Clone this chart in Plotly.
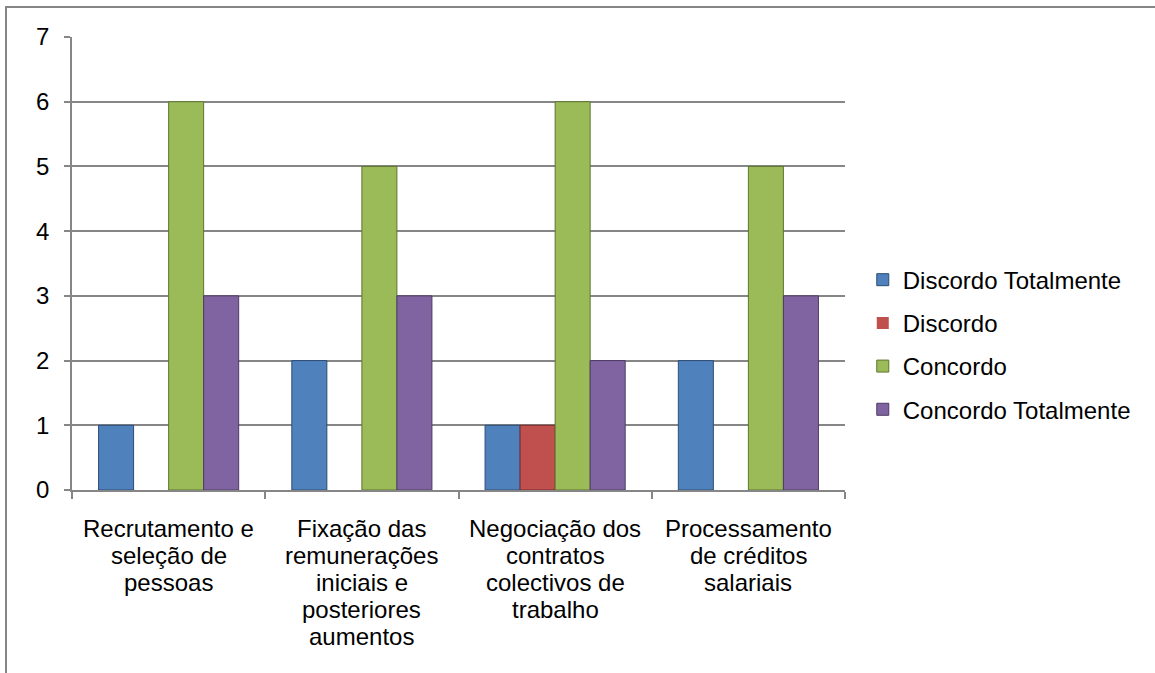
import plotly.graph_objects as go

categories = [
    "Recrutamento e<br>seleção de<br>pessoas",
    "Fixação das<br>remunerações<br>iniciais e<br>posteriores<br>aumentos",
    "Negociação dos<br>contratos<br>colectivos de<br>trabalho",
    "Processamento<br>de créditos<br>salariais",
]
series_names = ["Discordo Totalmente", "Discordo", "Concordo", "Concordo Totalmente"]
discordo_totalmente = [1, 2, 1, 2]
discordo = [0, 0, 1, 0]
concordo = [6, 5, 6, 5]
concordo_totalmente = [3, 3, 2, 3]
y_ticks = [0, 1, 2, 3, 4, 5, 6, 7]

values = [discordo_totalmente, discordo, concordo, concordo_totalmente]
colors = ["#4F81BD", "#C0504D", "#9BBB59", "#8064A2"]
edges = ["#2C4D75", "#772C2A", "#5F7530", "#4D3B62"]

fig = go.Figure()
for name, vals, c, e in zip(series_names, values, colors, edges):
    fig.add_trace(go.Bar(
        x=categories, y=vals, name=name, legendgroup=name,
        marker=dict(color=c, line=dict(color=e, width=[1 if v else 0 for v in vals])),
    ))

font = dict(family="Liberation Sans, Arial, sans-serif", size=24, color="#000000")

# category labels drawn line by line (tighter line spacing than plotly default)
annotations = []
for cat in categories:
    for i, line in enumerate(cat.split("<br>")):
        annotations.append(dict(
            x=cat, xref="x", y=0, yref="paper", text=line, showarrow=False,
            xanchor="center", yanchor="middle", yshift=-(38 + 27 * i),
            font=font,
        ))

fig.update_layout(
    width=1155, height=673,
    margin=dict(l=72, r=310, t=37, b=183, autoexpand=False),
    paper_bgcolor="white", plot_bgcolor="white",
    font=font,
    barmode="group", bargap=0.275, bargroupgap=0.0,
    showlegend=True,
    legend=dict(x=1.023, y=0.321, xanchor="left", yanchor="middle",
                font=font, tracegroupgap=9, itemwidth=30,
                bgcolor="rgba(0,0,0,0)"),
    xaxis=dict(showline=True, linecolor="#868686", linewidth=1.5,
               ticks="outside", tickson="boundaries", ticklen=7,
               tickcolor="#868686", tickwidth=1.5, showgrid=False,
               showticklabels=False),
    yaxis=dict(range=[0, 7], tickvals=y_ticks, showline=True,
               linecolor="#868686", linewidth=1.5, ticks="outside",
               ticklen=6, tickcolor="#868686", tickwidth=1.5,
               showgrid=True, gridcolor="#868686", gridwidth=1.5,
               zeroline=False, tickfont=font, ticklabelstandoff=10),
    annotations=annotations,
    shapes=[dict(type="rect", xref="paper", yref="paper",
                 x0=(6 - 72) / 773, x1=2.0, y0=-1.0, y1=(490 - 7) / 453,
                 line=dict(color="#868686", width=2), fillcolor="rgba(0,0,0,0)",
                 layer="below")],
)

fig.write_html("out.html")
